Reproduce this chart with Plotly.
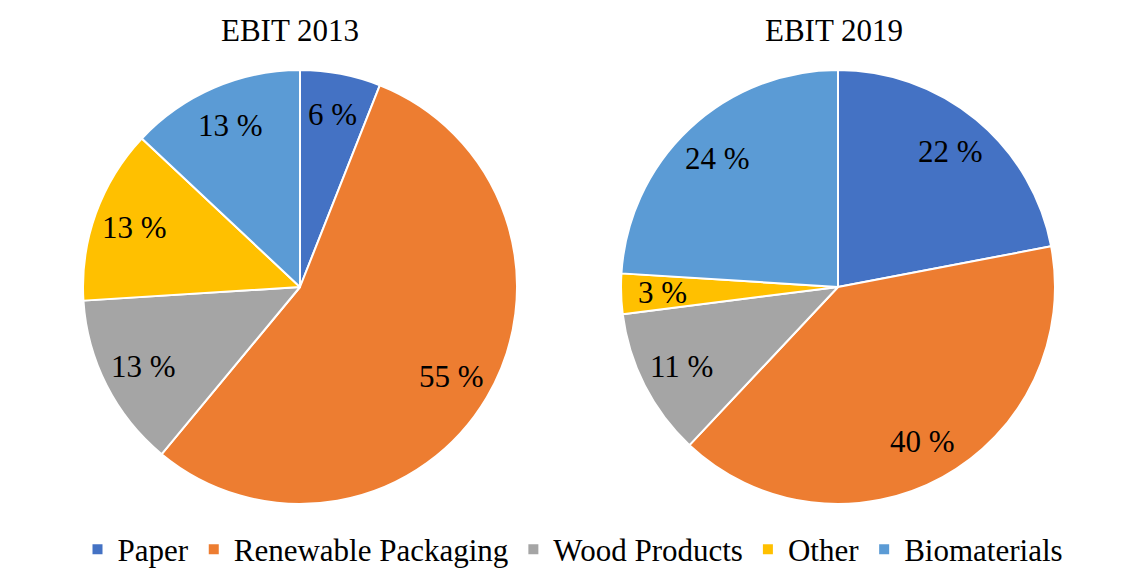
import math
import plotly.graph_objects as go

categories = ["Paper", "Renewable Packaging", "Wood Products", "Other", "Biomaterials"]
ebit_2013 = [6, 55, 13, 13, 13]
ebit_2019 = [22, 40, 11, 3, 24]
titles = ["EBIT 2013", "EBIT 2019"]
colors = ["#4472C4", "#ED7D31", "#A5A5A5", "#FFC000", "#5B9BD5"]

W, H = 1146, 568
FONT = "Liberation Serif"
FS = 31
R = 217
CENTERS = [(300, 287), (838, 287)]
LABEL_R = 0.81

fig = go.Figure()
for vals, (cx, cy), title, tcx in zip([ebit_2013, ebit_2019], CENTERS, titles, [290, 834]):
    d = dict(x=[(cx - R) / W, (cx + R) / W], y=[1 - (cy + R) / H, 1 - (cy - R) / H])
    fig.add_trace(go.Pie(
        labels=categories, values=vals, sort=False, direction="clockwise", rotation=0,
        marker=dict(colors=colors, line=dict(color="white", width=2)),
        textinfo="none", domain=d, hoverinfo="label+value",
    ))
    total = sum(vals)
    cum = 0
    for v in vals:
        mid = (cum + v / 2) / total * 2 * math.pi
        cum += v
        px = cx + LABEL_R * R * math.sin(mid)
        py = cy - LABEL_R * R * math.cos(mid)
        fig.add_annotation(text=f"{v} %", x=px / W, y=1 - py / H, xref="paper", yref="paper",
                           xanchor="center", yanchor="middle", showarrow=False,
                           font=dict(family=FONT, size=FS, color="black"))
    fig.add_annotation(text=title, x=tcx / W, y=1 - 31 / H, xref="paper", yref="paper",
                       xanchor="center", yanchor="middle", showarrow=False,
                       font=dict(family=FONT, size=FS, color="black"))

fig.update_layout(
    width=W, height=H,
    font=dict(family=FONT, size=FS, color="black"),
    margin=dict(l=0, r=0, t=0, b=0, autoexpand=False),
    paper_bgcolor="white", plot_bgcolor="white",
    legend=dict(orientation="h", x=0.5, xanchor="center", y=-0.015, yanchor="bottom",
                font=dict(family=FONT, size=FS, color="black"), traceorder="normal"),
)
fig.write_html("out.html")
